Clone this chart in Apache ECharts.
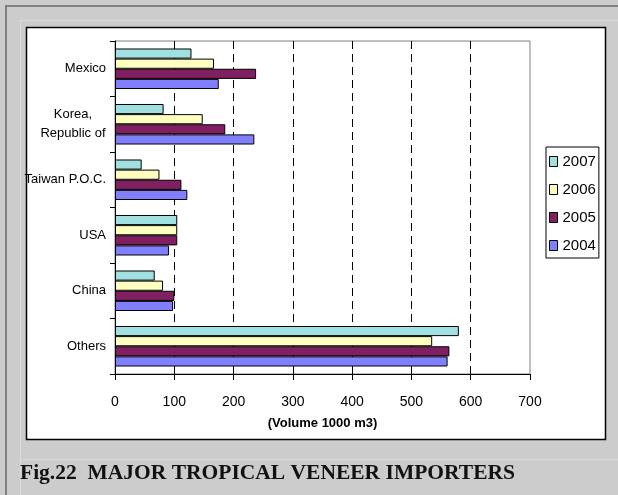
<!DOCTYPE html>
<html>
<head>
<meta charset="utf-8">
<script src="https://cdn.jsdelivr.net/npm/echarts@6/dist/echarts.min.js"></script>
<style>
  html, body { margin: 0; padding: 0; background: #cccccc; }
  #chart { width: 618px; height: 495px; }
</style>
</head>
<body>
<div id="chart"></div>
<script>
// categories top to bottom
const categories = ['Mexico', 'Korea,\nRepublic of', 'Taiwan P.O.C.', 'USA', 'China', 'Others']
const years = ['2007', '2006', '2005', '2004']
const v2007 = [129, 82, 45, 105, 67, 580]
const v2006 = [167, 148, 75, 105, 81, 535]
const v2005 = [238, 186, 112, 105, 100, 564]
const v2004 = [175, 235, 122, 91, 98, 561]
const xTicks = [0, 100, 200, 300, 400, 500, 600, 700]

const colors = ['#a0e0e0', '#ffffc0', '#802060', '#8080ff']
const values = [v2007, v2006, v2005, v2004]

const sans = '"Liberation Sans", Arial, sans-serif'

const chart = echarts.init(document.getElementById('chart'))

const series = years.map((y, i) => ({
  name: y,
  type: 'bar',
  data: values[i],
  barGap: '0%',
  barCategoryGap: '27%',
  itemStyle: { color: colors[i], borderColor: '#000', borderWidth: 1 },
  emphasis: { disabled: true }
}))

// dashed grid lines only between 0 and 700
const splitColors = xTicks.map((t, i) => (i === 0 || i === xTicks.length - 1) ? 'rgba(0,0,0,0)' : '#000')

const option = {
  backgroundColor: '#cccccc',
  animation: false,
  graphic: [
    { type: 'rect', z: -10, shape: { x: 5, y: 5, width: 613, height: 2 }, style: { fill: '#808080' } },
    { type: 'rect', z: -10, shape: { x: 5, y: 5, width: 2, height: 490 }, style: { fill: '#808080' } },
    { type: 'rect', z: -10, shape: { x: 20, y: 20, width: 1, height: 475 }, style: { fill: '#dadada' } },
    { type: 'rect', z: -10, shape: { x: 20, y: 20, width: 598, height: 1 }, style: { fill: '#dadada' } },
    { type: 'rect', z: -10, shape: { x: 20, y: 459, width: 598, height: 1 }, style: { fill: '#dadada' } },
    {
      type: 'rect', z: -9,
      shape: { x: 26.5, y: 27.5, width: 579, height: 412 },
      style: { fill: '#fff', stroke: '#000', lineWidth: 1.5 }
    },
    {
      type: 'text', left: 20, top: 462,
      style: {
        text: 'Fig.22  MAJOR TROPICAL VENEER IMPORTERS',
        font: 'bold 21.5px "Liberation Serif", "Times New Roman", serif',
        fill: '#111'
      }
    }
  ],
  legend: {
    data: years,
    orient: 'vertical',
    left: 546,
    top: 147,
    padding: [7, 3, 5, 3],
    itemWidth: 8,
    itemHeight: 10,
    itemGap: 13,
    icon: 'rect',
    backgroundColor: '#fff',
    borderColor: '#000',
    borderWidth: 1,
    itemStyle: { borderColor: '#000', borderWidth: 1 },
    textStyle: { fontFamily: sans, fontSize: 15, color: '#000', lineHeight: 15 }
  },
  grid: {
    left: 115,
    right: 88,
    top: 41,
    bottom: 121,
    show: true,
    borderColor: '#808080',
    borderWidth: 1,
    backgroundColor: 'transparent'
  },
  xAxis: {
    type: 'value',
    min: 0,
    max: 700,
    interval: 100,
    name: '(Volume 1000 m3)',
    nameLocation: 'middle',
    nameGap: 43,
    nameTextStyle: { fontFamily: sans, fontSize: 13, fontWeight: 'bold', color: '#000' },
    axisLine: { show: true, lineStyle: { color: '#000', width: 1 } },
    axisTick: { show: true, length: 6, lineStyle: { color: '#000' } },
    axisLabel: { fontFamily: sans, fontSize: 14, color: '#000', margin: 21 },
    splitLine: { show: true, lineStyle: { color: splitColors, type: [8, 5], width: 1 } }
  },
  yAxis: {
    type: 'category',
    inverse: true,
    data: categories,
    axisLine: { show: true, lineStyle: { color: '#000', width: 1 } },
    axisTick: { show: true, length: 5, lineStyle: { color: '#000' } },
    axisLabel: {
      fontFamily: sans,
      fontSize: 13,
      color: '#000',
      margin: 9,
      formatter: (v) => {
        if (v.indexOf('\n') >= 0) {
          return v.split('\n').map(s => '{c|' + s + '}').join('\n')
        }
        return v
      },
      rich: {
        c: { fontFamily: sans, fontSize: 13, color: '#000', width: 66, align: 'center', lineHeight: 19 }
      }
    }
  },
  series: series
}

chart.setOption(option)
</script>
</body>
</html>
